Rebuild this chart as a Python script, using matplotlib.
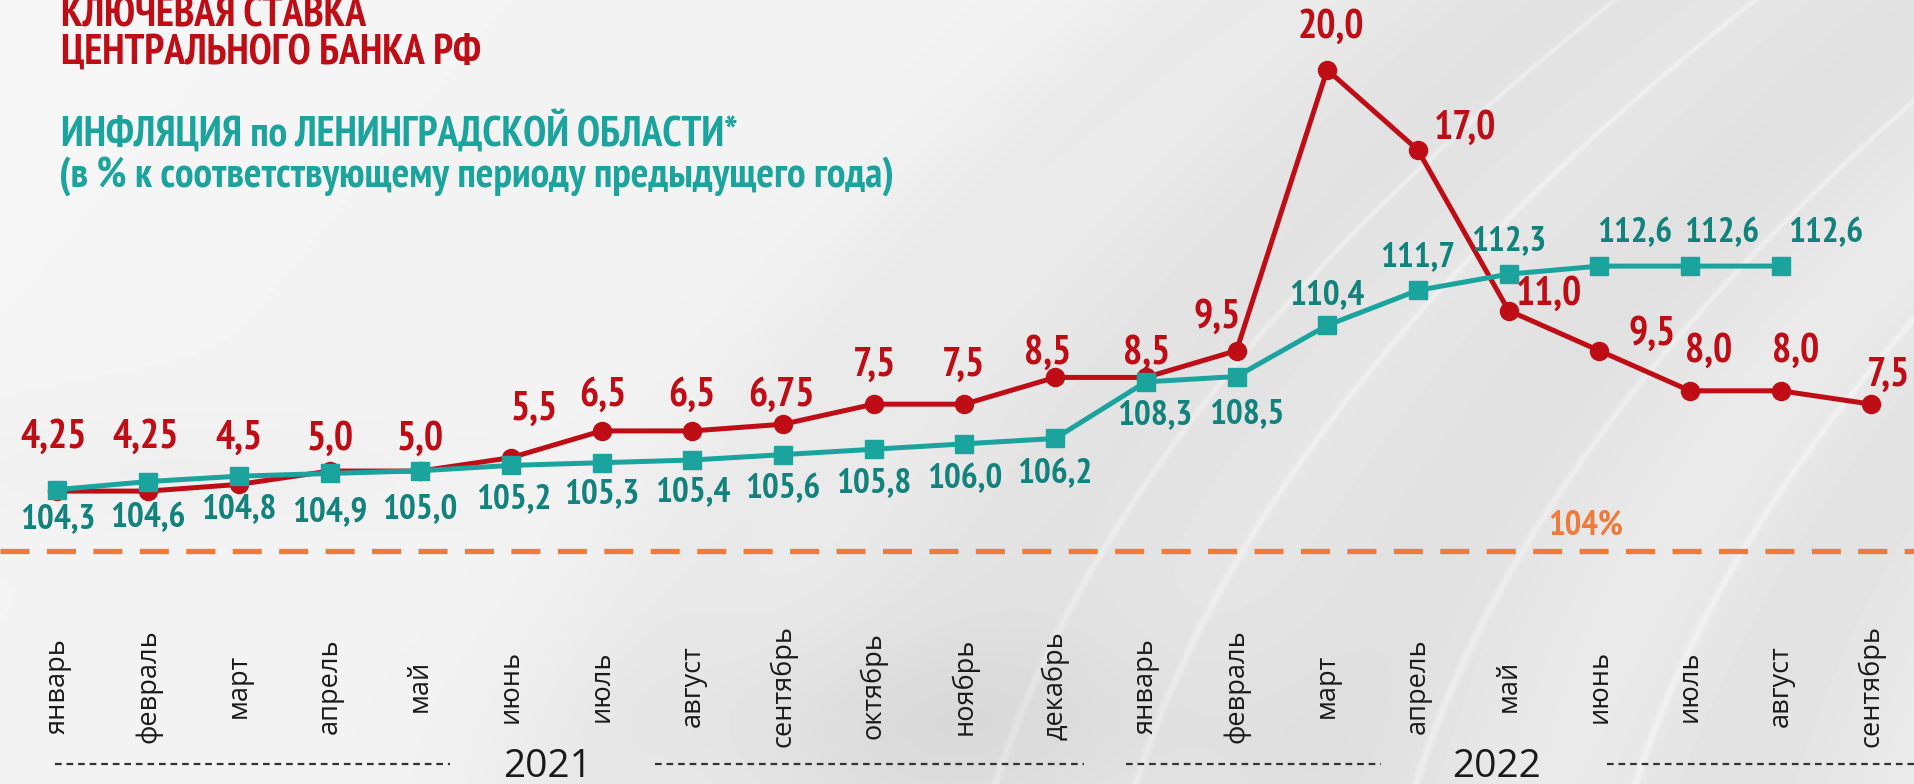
import numpy as np
import matplotlib
matplotlib.use('Agg')
import matplotlib.pyplot as plt

# data
months = ['январь', 'февраль', 'март', 'апрель', 'май', 'июнь', 'июль',
          'август', 'сентябрь', 'октябрь', 'ноябрь', 'декабрь',
          'январь', 'февраль', 'март', 'апрель', 'май', 'июнь', 'июль',
          'август', 'сентябрь']
key_rate = [4.25, 4.25, 4.5, 5.0, 5.0, 5.5, 6.5, 6.5, 6.75, 7.5, 7.5, 8.5,
            8.5, 9.5, 20.0, 17.0, 11.0, 9.5, 8.0, 8.0, 7.5]
inflation = [104.3, 104.6, 104.8, 104.9, 105.0, 105.2, 105.3, 105.4, 105.6,
             105.8, 106.0, 106.2, 108.3, 108.5, 110.4, 111.7, 112.3, 112.6,
             112.6, 112.6]
years = ['2021', '2022']
target_label = '104%'

# label offsets in pixels (dx, dy downwards) - layout only
rate_off = [(-3, -44), (-2, -44), (0, -38), (1, -26), (0, -26), (19, -40),
            (1, -29), (0, -29), (-1, -24), (1, -32), (-1, -32), (-6, -20),
            (1, -20), (-16, -27), (3, -35), (39, -18), (33, -13), (43, -13),
            (15, -32), (12, -32), (14, -24)]
infl_off = [(0, 24), (0, 30), (0, 27), (0, 32), (0, 31), (2, 28), (0, 26),
            (0, 26), (0, 28), (0, 28), (0, 29), (0, 29), (7, 27), (8, 31),
            (0, -25), (0, -27), (0, -27), (29, -27), (26, -27), (37, -27)]

RED = '#bf0d16'
TEAL_L = '#1ba39d'
TEAL_T = '#12827d'
ORANGE = '#f07a3a'
NARROW = ['PT Sans Narrow', 'DejaVu Sans']
PLAIN = ['Open Sans', 'DejaVu Sans']
S = 1915 / 1568.0


def fmt(v):
    s = '%.1f' % v if abs(v * 10 - round(v * 10)) < 1e-9 else '%.2f' % v
    return s.replace('.', ',')


W, H = 1915, 784
fig = plt.figure(figsize=(W / 100, H / 100), dpi=100)

# background with soft swooshes
yy, xx = np.mgrid[0:H, 0:W].astype(float)
bg = 0.965 - 0.03 * (xx / W) - 0.01 * (yy / H)
for c, w, a in [(1500, 240, -0.055), (1900, 170, -0.05), (2300, 130, -0.04),
                (1150, 110, -0.025)]:
    d = (xx + 0.9 * yy) - c - 0.0006 * (yy - 300) ** 2
    bg += a * np.exp(-(d / w) ** 2)
for c in [1560, 1700, 1980, 2200]:
    d = (xx + 0.9 * yy) - c - 0.0006 * (yy - 300) ** 2
    bg += 0.04 * np.exp(-(d / 4) ** 2)
bg -= 0.035 * np.exp(-((yy - 720) / 90) ** 2) * np.exp(-((xx - 950) / 300) ** 2)
bg -= 0.02 * np.exp(-((yy - 470) / 60) ** 2) * np.exp(-((xx - 150) / 250) ** 2)
bg = np.clip(bg, 0, 1)
axb = fig.add_axes([0, 0, 1, 1])
axb.imshow(bg, cmap='gray', vmin=0, vmax=1, aspect='auto')
axb.axis('off')

ax = fig.add_axes([0, 0, 1, 1], facecolor='none')
ax2 = ax.twinx()
x0, dx = 57.4, 90.7
ax.set_xlim(-x0 / dx, (W - x0) / dx)
ax.set_ylim(-6.70, 22.61)
ax2.set_ylim(93.37, 122.48)
for a in (ax, ax2):
    a.axis('off')

xr = np.arange(len(key_rate))
xi = np.arange(len(inflation))

# target dashed line
ax.axhline(2.0, color=ORANGE, lw=3.8, dashes=(5.5, 3.3), zorder=1)
ax.annotate(target_label, (0.828, 2.0), xycoords=('axes fraction', 'data'),
            xytext=(0, 26), textcoords='offset pixels', ha='center',
            va='center', color=ORANGE, fontsize=25, fontweight='bold',
            family=NARROW)

ax.plot(xr, key_rate, color=RED, lw=3.6, marker='o', ms=13, zorder=3)
ax2.plot(xi, inflation, color=TEAL_L, lw=3.6, marker='s', ms=13, zorder=4)

for i, v in enumerate(key_rate):
    ox, oy = rate_off[i]
    ax.annotate(fmt(v), (i, v), xytext=(ox * S, -oy * S),
                textcoords='offset pixels', ha='center', va='center',
                color=RED, fontsize=29, fontweight='bold', family=NARROW,
                zorder=5)
for i, v in enumerate(inflation):
    ox, oy = infl_off[i]
    ax2.annotate(fmt(v), (i, v), xytext=(ox * S, -oy * S),
                 textcoords='offset pixels', ha='center', va='center',
                 color=TEAL_T, fontsize=25.5, fontweight='bold',
                 family=NARROW, zorder=5)

# month labels
for i, m in enumerate(months):
    ax.text(i, 1 - 686 / H, m, transform=ax.get_xaxis_transform(),
            rotation=90, ha='center', va='center', fontsize=19.5,
            color='#1a1a1a', family=PLAIN)

# year captions with dashed rules
for (a, b) in [(55, 450), (655, 1084), (1126, 1381), (1607, 1915)]:
    fig.add_artist(plt.Line2D([a / W, b / W], [1 - 764 / H] * 2,
                              color='#333333', lw=1.6, dashes=(3, 2.2)))
for yr, cx in zip(years, [548, 1496]):
    fig.text(cx / W, 1 - 767 / H, yr, ha='center', va='center', fontsize=28,
             color='#1a1a1a', family=PLAIN)

# titles
fig.text(61 / W, 1 - 16 / H, 'КЛЮЧЕВАЯ СТАВКА', ha='left', va='center',
         fontsize=30, fontweight='bold', color=RED, family=NARROW)
fig.text(61 / W, 1 - 53 / H, 'ЦЕНТРАЛЬНОГО БАНКА РФ', ha='left',
         va='center', fontsize=30, fontweight='bold', color=RED, family=NARROW)
fig.text(61 / W, 1 - 134 / H, 'ИНФЛЯЦИЯ по ЛЕНИНГРАДСКОЙ ОБЛАСТИ*',
         ha='left', va='center', fontsize=30, fontweight='bold',
         color=TEAL_L, family=NARROW)
fig.text(59 / W, 1 - 176 / H,
         '(в % к соответствующему периоду предыдущего года)', ha='left',
         va='center', fontsize=30, fontweight='bold', color=TEAL_L,
         family=NARROW)

fig.savefig('out.png', dpi=100)
